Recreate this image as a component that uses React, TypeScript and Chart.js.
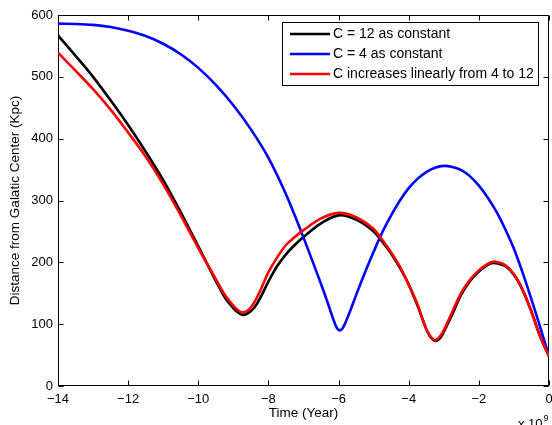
import React, { useEffect, useRef } from "react";
import { Chart, registerables } from "chart.js";

Chart.register(...registerables);

// Time in units of 1e9 years, distance in kpc
const seriesLabels = ["C = 12 as constant", "C = 4 as constant", "C increases linearly from 4 to 12"];
const seriesColors = ["#000000", "#0000ff", "#ff0000"];

const blackTime = [-14, -13.5, -13, -12.5, -12, -11.5, -11, -10.5, -10, -9.5, -9.25, -9, -8.85, -8.72, -8.6, -8.4, -8.2, -8, -7.75, -7.5, -7.25, -7, -6.5, -6, -5.5, -5, -4.75, -4.5, -4.25, -4, -3.75, -3.5, -3.4, -3.3, -3.23, -3.15, -3.05, -2.9, -2.75, -2.5, -2.25, -2, -1.75, -1.6, -1.45, -1.25, -1, -0.75, -0.5, -0.25, 0];
const blackDist = [567, 534, 500, 462, 422, 379, 333, 281, 226, 170, 144, 126, 118, 115, 117, 127, 146, 169, 194, 213, 228, 241, 263, 276, 269, 250, 233, 214, 191, 164, 130, 92, 81, 75, 73, 75, 82, 99, 117, 148, 170, 185, 196, 199, 198, 194, 180, 155, 120, 80, 48];

const blueTime = [-14, -13.5, -13, -12.5, -12, -11.5, -11, -10.5, -10, -9.5, -9, -8.5, -8, -7.5, -7, -6.5, -6.3, -6.15, -6.05, -5.97, -5.89, -5.8, -5.65, -5.5, -5.25, -5, -4.75, -4.5, -4.25, -4, -3.75, -3.5, -3.25, -3, -2.75, -2.5, -2.25, -2, -1.75, -1.5, -1.25, -1, -0.75, -0.5, -0.25, 0];
const blueDist = [586, 585.5, 584, 580.5, 574.5, 566, 553.5, 536.5, 514.5, 487, 454, 415, 369, 310, 240, 165, 133, 108, 94, 90, 93, 103, 124, 147, 183, 217, 249, 276, 300, 320, 335, 346, 353, 356, 354, 349, 339, 324, 305, 282, 254, 222, 183, 140, 95, 48];

const redTime = [-14, -13.5, -13, -12.5, -12, -11.5, -11, -10.5, -10, -9.5, -9.25, -9, -8.9, -8.8, -8.75, -8.65, -8.5, -8.3, -8.15, -8, -7.75, -7.5, -7.25, -7, -6.5, -6, -5.5, -5, -4.75, -4.5, -4.25, -4, -3.75, -3.5, -3.4, -3.3, -3.26, -3.18, -3.05, -2.9, -2.75, -2.5, -2.25, -2, -1.75, -1.6, -1.45, -1.25, -1, -0.75, -0.5, -0.25, 0];
const redDist = [539, 510, 480, 447, 410, 371, 326, 276, 223, 173, 148, 130, 124, 120, 119, 120, 127, 146, 165, 184, 208, 228, 241, 252, 271, 280, 273, 254, 236, 216, 193, 164, 132, 92, 82, 75, 74, 76, 85, 102, 121, 151, 172, 187, 197.5, 201, 200, 195.5, 181, 155, 120, 80, 48];

const xTicks = [-14, -12, -10, -8, -6, -4, -2, 0];
const yTicks = [0, 100, 200, 300, 400, 500, 600];

const xTitle = "Time (Year)";
const yTitle = "Distance from Galatic Center (Kpc)";
const xMultiplier = "x 10";
const xExponent = "9";

const FONT = "'Liberation Sans', Arial, Helvetica, sans-serif";

const zip = (xs: number[], ys: number[]) => xs.map((x, i) => ({ x, y: ys[i] }));

const framePlugin = {
  id: "matlabFrame",
  beforeDatasetsDraw(chart: any) {
    const { ctx, chartArea } = chart;
    const { left, right, top, bottom } = chartArea;
    const xs = chart.scales.x;
    const ys = chart.scales.y;
    ctx.save();
    ctx.strokeStyle = "#000";
    ctx.lineWidth = 1;
    const L = Math.round(left) + 0.5;
    const R = Math.round(right) - 0.5;
    const T = Math.round(top) + 0.5;
    const B = Math.round(bottom) - 0.5;
    ctx.strokeRect(L, T, R - L, B - T);
    const tl = 5;
    ctx.beginPath();
    xTicks.forEach((v) => {
      const px = Math.round(xs.getPixelForValue(v)) + 0.5;
      ctx.moveTo(px, B);
      ctx.lineTo(px, B - tl);
      ctx.moveTo(px, T);
      ctx.lineTo(px, T + tl);
    });
    yTicks.forEach((v) => {
      const py = Math.round(ys.getPixelForValue(v)) + 0.5;
      ctx.moveTo(L, py);
      ctx.lineTo(L + tl, py);
      ctx.moveTo(R, py);
      ctx.lineTo(R - tl, py);
    });
    ctx.stroke();
    ctx.restore();
  },
  afterDraw(chart: any) {
    const { ctx } = chart;
    ctx.save();
    // legend box
    const bx = 282.5, by = 22.5, bw = 256, bh = 63;
    ctx.fillStyle = "#fff";
    ctx.fillRect(bx, by, bw, bh);
    ctx.strokeStyle = "#000";
    ctx.lineWidth = 1;
    ctx.strokeRect(bx, by, bw, bh);
    ctx.font = `14px ${FONT}`;
    ctx.textBaseline = "middle";
    ctx.textAlign = "left";
    chart.data.datasets.forEach((ds: any, i: number) => {
      const y = 34 + 20 * i;
      ctx.strokeStyle = ds.borderColor;
      ctx.lineWidth = 2.5;
      ctx.beginPath();
      ctx.moveTo(290, y);
      ctx.lineTo(330, y);
      ctx.stroke();
      ctx.fillStyle = "#000";
      ctx.fillText(ds.label, 333, y + 0.5);
    });
    // exponent label
    ctx.fillStyle = "#000";
    ctx.textBaseline = "alphabetic";
    ctx.font = `13px ${FONT}`;
    ctx.fillText(xMultiplier, 518, 428);
    const w = ctx.measureText(xMultiplier).width;
    ctx.font = `9px ${FONT}`;
    ctx.fillText(xExponent, 518 + w + 1, 421);
    ctx.restore();
  },
};

export default function App() {
  const ref = useRef<HTMLCanvasElement | null>(null);
  useEffect(() => {
    document.body.style.margin = "0";
    if (!ref.current) return;
    const chart = new Chart(ref.current, {
      type: "line",
      data: {
        datasets: [
          { label: seriesLabels[0], data: zip(blackTime, blackDist), borderColor: seriesColors[0], order: 2 },
          { label: seriesLabels[1], data: zip(blueTime, blueDist), borderColor: seriesColors[1], order: 1 },
          { label: seriesLabels[2], data: zip(redTime, redDist), borderColor: seriesColors[2], order: 0 },
        ].map((d) => ({
          ...d,
          borderWidth: 2.6,
          pointRadius: 0,
          fill: false,
          tension: 0.35,
          backgroundColor: d.borderColor,
        })),
      },
      options: {
        animation: false,
        responsive: false,
        devicePixelRatio: 1,
        layout: { padding: { left: 0, right: 3, top: 15, bottom: 0 } },
        plugins: { legend: { display: false }, tooltip: { enabled: false } },
        scales: {
          x: {
            type: "linear",
            min: -14,
            max: 0,
            grid: { display: false, drawTicks: false },
            border: { display: false },
            afterFit: (s: any) => {
              s.height = 39;
              s.paddingLeft = 0;
              s.paddingRight = 0;
            },
            afterBuildTicks: (s: any) => { s.ticks = xTicks.map((v) => ({ value: v })); },
            ticks: {
              color: "#000",
              padding: 6,
              maxRotation: 0,
              autoSkip: false,
              font: { family: FONT, size: 13 },
              callback: (v: any) => (Number(v) < 0 ? "\u2212" + Math.abs(Number(v)) : String(v)),
            },
            title: {
              display: true,
              text: xTitle,
              color: "#000",
              font: { family: FONT, size: 13.5 },
              padding: { top: 0, bottom: 4 },
            },
          },
          y: {
            type: "linear",
            min: 0,
            max: 600,
            grid: { display: false, drawTicks: false },
            border: { display: false },
            afterFit: (s: any) => {
              s.width = 58;
              s.paddingTop = 0;
              s.paddingBottom = 0;
            },
            afterBuildTicks: (s: any) => { s.ticks = yTicks.map((v) => ({ value: v })); },
            ticks: {
              color: "#000",
              padding: 5,
              autoSkip: false,
              font: { family: FONT, size: 13 },
            },
            title: {
              display: true,
              text: yTitle,
              color: "#000",
              font: { family: FONT, size: 13.5 },
              padding: { top: 7, bottom: 0 },
            },
          },
        },
      },
      plugins: [framePlugin],
    });
    return () => chart.destroy();
  }, []);
  return (
    <div style={{ width: 552, height: 425, background: "#fff" }}>
      <canvas ref={ref} width={552} height={425} />
    </div>
  );
}
